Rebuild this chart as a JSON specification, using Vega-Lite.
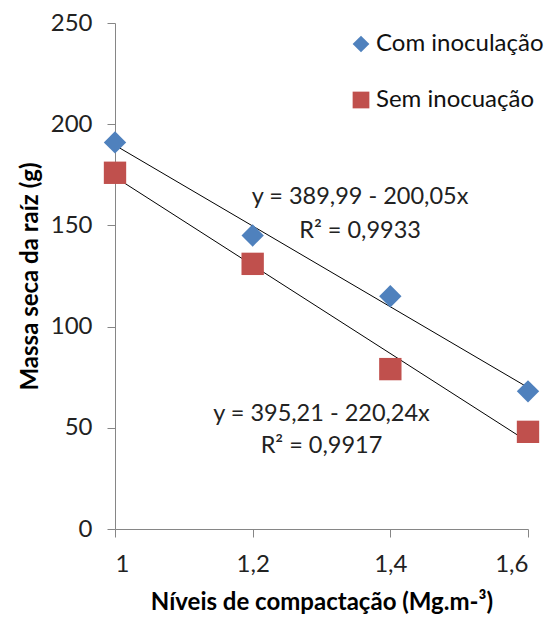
{
  "$schema": "https://vega.github.io/schema/vega-lite/v6.json",
  "width": 413,
  "height": 506,
  "autosize": "none",
  "padding": {"left": 115, "top": 23, "right": 27, "bottom": 99},
  "background": "white",
  "config": {
    "font": "Lato",
    "view": {"stroke": null},
    "axis": {"grid": false, "domainColor": "#868686", "tickColor": "#868686", "tickSize": 8, "labelColor": "#222222", "titleColor": "#000000", "labelFont": "Lato", "titleFont": "Lato"}
  },
  "datasets": {
    "pts": [
      {"nivel": 1.0, "massa": 191, "serie": "Com inoculação"},
      {"nivel": 1.2, "massa": 145, "serie": "Com inoculação"},
      {"nivel": 1.4, "massa": 115, "serie": "Com inoculação"},
      {"nivel": 1.6, "massa": 68, "serie": "Com inoculação"},
      {"nivel": 1.0, "massa": 176, "serie": "Sem inocuação"},
      {"nivel": 1.2, "massa": 131, "serie": "Sem inocuação"},
      {"nivel": 1.4, "massa": 79, "serie": "Sem inocuação"},
      {"nivel": 1.6, "massa": 48, "serie": "Sem inocuação"}
    ],
    "eq": [
      {"nivel": 1.356, "massa": 164, "txt": "y = 389,99 - 200,05x"},
      {"nivel": 1.356, "massa": 147, "txt": "R² = 0,9933"},
      {"nivel": 1.30, "massa": 57, "txt": "y = 395,21 - 220,24x"},
      {"nivel": 1.30, "massa": 41, "txt": "R² = 0,9917"}
    ]
  },
  "layer": [
    {
      "data": {"name": "pts"},
      "transform": [{"regression": "massa", "on": "nivel", "groupby": ["serie"], "method": "linear", "extent": [1, 1.6]}],
      "mark": {"type": "line", "color": "#000000", "strokeWidth": 1, "clip": false},
      "encoding": {
        "x": {"field": "nivel", "type": "quantitative"},
        "y": {"field": "massa", "type": "quantitative"},
        "detail": {"field": "serie"}
      }
    },
    {
      "data": {"name": "pts"},
      "mark": {"type": "point", "filled": true, "opacity": 1, "clip": false},
      "encoding": {
        "x": {
          "field": "nivel", "type": "quantitative",
          "scale": {"domain": [1, 1.6], "nice": false, "zero": false},
          "axis": {"values": [1, 1.2, 1.4, 1.6], "labelExpr": "replace(toString(datum.value), '.', ',')", "labelFontSize": 24, "labelPadding": 15, "title": "Níveis de compactação (Mg.m-³)", "titleFontSize": 24, "titleFontWeight": "bold", "titlePadding": 14}
        },
        "y": {
          "field": "massa", "type": "quantitative",
          "scale": {"domain": [0, 250], "nice": false},
          "axis": {"values": [0, 50, 100, 150, 200, 250], "labelFontSize": 24, "labelPadding": 15, "title": "Massa seca da raíz (g)", "titleFontSize": 24, "titleFontWeight": "bold", "titlePadding": 8}
        },
        "color": {
          "field": "serie", "type": "nominal",
          "scale": {"domain": ["Com inoculação", "Sem inocuação"], "range": ["#4F81BD", "#C0504D"]},
          "legend": {"title": null, "orient": "none", "legendX": 234, "legendY": 9, "labelFontSize": 24, "labelLimit": 400, "labelColor": "#111111", "symbolSize": 280, "rowPadding": 32, "labelOffset": 3, "symbolStrokeWidth": 0}
        },
        "shape": {
          "field": "serie", "type": "nominal",
          "scale": {"domain": ["Com inoculação", "Sem inocuação"], "range": ["diamond", "square"]}
        },
        "size": {"value": 500}
      }
    },
    {
      "data": {"name": "eq"},
      "mark": {"type": "text", "fontSize": 23.5, "color": "#222222", "align": "center", "baseline": "middle"},
      "encoding": {
        "x": {"field": "nivel", "type": "quantitative"},
        "y": {"field": "massa", "type": "quantitative"},
        "text": {"field": "txt"}
      }
    }
  ]
}
